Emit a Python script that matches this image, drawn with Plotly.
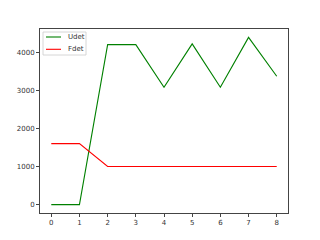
import plotly.graph_objects as go

x_vals = [0, 1, 2, 3, 4, 5, 6, 7, 8]
udet = [0, 0, 4200, 4200, 3080, 4220, 3080, 4390, 3370]
fdet = [1600, 1600, 1000, 1000, 1000, 1000, 1000, 1000, 1000]
series_names = ["Udet", "Fdet"]
series_colors = ["green", "red"]
x_ticks = [0, 1, 2, 3, 4, 5, 6, 7, 8]
y_ticks = [0, 1000, 2000, 3000, 4000]

fig = go.Figure()
for name, ys, col in zip(series_names, [udet, fdet], series_colors):
    fig.add_trace(go.Scatter(x=x_vals, y=ys, mode="lines", name=name,
                             line=dict(color=col, width=1.1), showlegend=False))

axis_common = dict(showgrid=False, zeroline=False, showline=True, mirror=True,
                   linecolor="#444", linewidth=0.8, ticks="outside", ticklen=3,
                   tickwidth=0.8, tickcolor="#444",
                   tickfont=dict(family="DejaVu Sans", size=7, color="#333"))

# matplotlib-style legend box (upper left), drawn in plot-area coordinates
W, H, L, T = 248.0, 184.0, 40.0, 29.0
def fx(px):
    return (px - L) / W
def fy(py):
    return 1 - (py - T) / H

shapes = [dict(type="rect", xref="paper", yref="paper",
               x0=fx(43), x1=fx(86), y0=fy(55), y1=fy(32),
               line=dict(color="#cccccc", width=0.8), fillcolor="rgba(255,255,255,0.8)")]
annotations = []
for i, (name, col) in enumerate(zip(series_names, series_colors)):
    ypx = 37 + i * 12.3
    shapes.append(dict(type="line", xref="paper", yref="paper",
                       x0=fx(46), x1=fx(61), y0=fy(ypx), y1=fy(ypx),
                       line=dict(color=col, width=1.1)))
    annotations.append(dict(xref="paper", yref="paper", x=fx(65.5), y=fy(ypx),
                            text=name, showarrow=False, xanchor="left", yanchor="middle",
                            font=dict(family="DejaVu Sans", size=7, color="#333")))

fig.update_layout(
    width=320, height=240,
    margin=dict(l=40, r=32, t=29, b=27),
    paper_bgcolor="white", plot_bgcolor="white",
    xaxis=dict(range=[-0.4, 8.4], tickvals=x_ticks, **axis_common),
    yaxis=dict(range=[-219.5, 4609.5], tickvals=y_ticks, **axis_common),
    shapes=shapes, annotations=annotations,
    showlegend=False,
)

fig.write_html("out.html")
